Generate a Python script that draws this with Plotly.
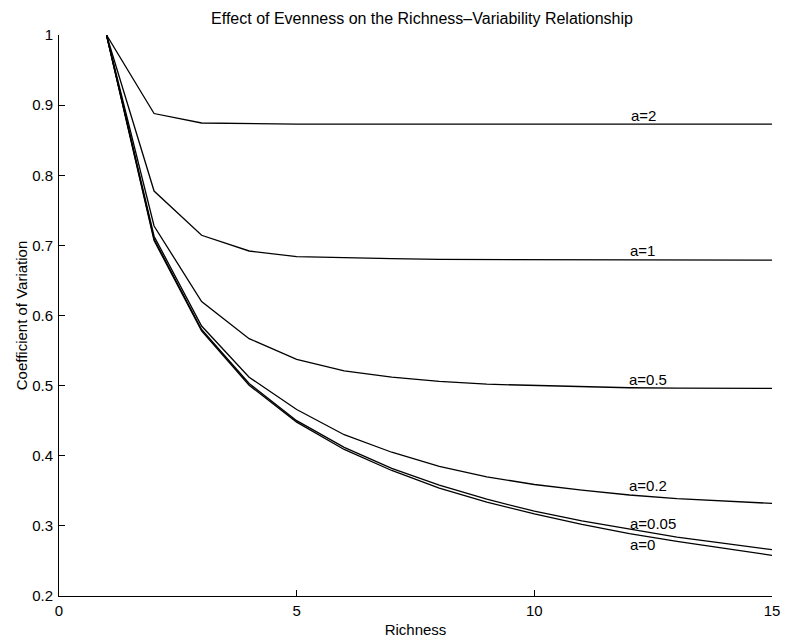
import plotly.graph_objects as go

richness = list(range(1, 16))
cv_a2 = [1.0, 0.888, 0.8745, 0.8735, 0.873, 0.873, 0.873, 0.873, 0.873, 0.873, 0.873, 0.873, 0.873, 0.873, 0.873]
cv_a1 = [1.0, 0.7775, 0.7144, 0.692, 0.684, 0.682, 0.681, 0.680, 0.680, 0.680, 0.679, 0.679, 0.679, 0.679, 0.679]
cv_a05 = [1.0, 0.7276, 0.620, 0.567, 0.5375, 0.521, 0.512, 0.506, 0.502, 0.500, 0.498, 0.497, 0.4965, 0.496, 0.496]
cv_a02 = [1.0, 0.713, 0.585, 0.512, 0.466, 0.430, 0.405, 0.385, 0.370, 0.359, 0.351, 0.344, 0.339, 0.335, 0.332]
cv_a005 = [1.0, 0.709, 0.580, 0.503, 0.450, 0.412, 0.382, 0.358, 0.338, 0.321, 0.307, 0.295, 0.284, 0.275, 0.266]
cv_a0 = [1.0, 0.707, 0.578, 0.5005, 0.448, 0.409, 0.379, 0.354, 0.334, 0.317, 0.302, 0.289, 0.278, 0.268, 0.258]

series = [("a=2", cv_a2), ("a=1", cv_a1), ("a=0.5", cv_a05),
          ("a=0.2", cv_a02), ("a=0.05", cv_a005), ("a=0", cv_a0)]
label_pos = {"a=2": (12.29, 0.885), "a=1": (12.27, 0.693), "a=0.5": (12.39, 0.509),
             "a=0.2": (12.39, 0.357), "a=0.05": (12.5, 0.304), "a=0": (12.27, 0.273)}

font = "Liberation Sans, Arial, Helvetica, sans-serif"
fig = go.Figure()
for name, vals in series:
    fig.add_trace(go.Scatter(x=richness, y=vals, mode="lines", name=name,
                             line=dict(color="black", width=1.3), showlegend=False))
    lx, ly = label_pos[name]
    fig.add_annotation(x=lx, y=ly, text=name, showarrow=False, xref="x", yref="y",
                       font=dict(family=font, size=15, color="black"))

fig.update_layout(
    width=786, height=639,
    margin=dict(l=59, r=14, t=35, b=43),
    paper_bgcolor="white", plot_bgcolor="white",
    font=dict(family=font, size=15, color="black"),
    title=dict(text="Effect of Evenness on the Richness\u2013Variability Relationship",
               x=422 / 786, xanchor="center", y=1 - 18 / 639, yanchor="middle",
               font=dict(family=font, size=16, color="black")),
    xaxis=dict(range=[0, 15], tickvals=[0, 5, 10, 15], ticks="inside", ticklen=6,
               tickcolor="black", showline=True, linecolor="black", linewidth=1,
               showgrid=False, zeroline=False, tickfont=dict(size=15),
               automargin=False, ticklabelstandoff=1,
               title=dict(text="Richness", standoff=6, font=dict(size=15))),
    yaxis=dict(range=[0.2, 1], tickvals=[0.2, 0.3, 0.4, 0.5, 0.6, 0.7, 0.8, 0.9, 1],
               ticktext=["0.2", "0.3", "0.4", "0.5", "0.6", "0.7", "0.8", "0.9", "1"],
               ticks="inside", ticklen=6, tickcolor="black", showline=True,
               linecolor="black", linewidth=1, showgrid=False, zeroline=False,
               tickfont=dict(size=15), automargin=False, ticklabelstandoff=2,
               title=dict(text="Coefficient of Variation", standoff=0, font=dict(size=15))),
)
fig.write_html("out.html")
